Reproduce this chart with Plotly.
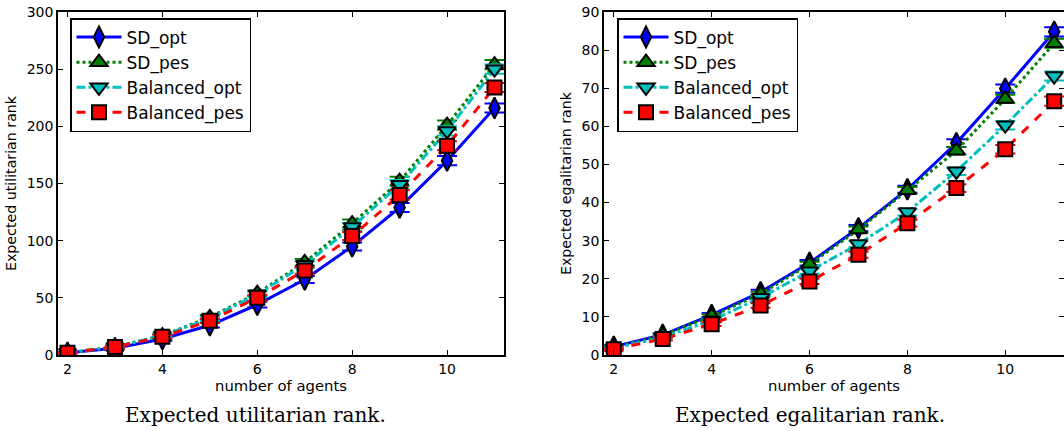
import plotly.graph_objects as go

agents = [2, 3, 4, 5, 6, 7, 8, 9, 10, 11]
series_names = ["SD_opt", "SD_pes", "Balanced_opt", "Balanced_pes"]

# Expected utilitarian rank
util_sd_opt = [2, 6, 14, 26, 44, 66, 95, 129, 170, 216]
util_sd_pes = [2, 7, 17, 33, 54, 81, 115, 152, 201, 254]
util_bal_opt = [2, 7, 17, 32, 53, 79, 112, 149, 196, 250]
util_bal_pes = [2, 7, 16, 30, 50, 74, 104, 140, 183, 234]
util_err = [0.5, 1, 1.5, 2, 2.5, 3, 3.5, 4, 4, 4]

# Expected egalitarian rank
egal_sd_opt = [2.2, 5.3, 10.5, 16.5, 24.2, 33.3, 43.5, 55.6, 69.9, 84.8]
egal_sd_pes = [2.0, 5.2, 10.2, 16.0, 23.8, 32.9, 43.2, 53.6, 67.2, 81.8]
egal_bal_opt = [1.8, 4.6, 9.1, 15.0, 22.0, 29.1, 37.5, 48.2, 60.3, 73.2]
egal_bal_pes = [1.5, 4.2, 8.1, 13.0, 19.3, 26.3, 34.6, 43.8, 54.0, 66.6]
egal_err = [0.3, 0.4, 0.5, 0.6, 0.7, 0.8, 0.9, 1.0, 1.1, 1.2]

colors = ["#0000ff", "#008000", "#00bfbf", "#ff0000"]
dashes = ["solid", "dot", "dashdot", "dash"]
symbols = ["diamond-tall", "triangle-up", "triangle-down", "square"]
msizes = [15, 15, 15, 14]

W, H = 1064, 431
TOP, BOT = 12, 76

fig = go.Figure()

def add_panel(ys, err, xa, ya, legend):
    for i, (name, y) in enumerate(zip(series_names, ys)):
        fig.add_trace(go.Scatter(
            x=agents, y=y, name=name, mode="lines+markers",
            xaxis=xa, yaxis=ya, legend=legend,
            line=dict(color=colors[i], width=3, dash=dashes[i]),
            marker=dict(symbol=symbols[i], size=msizes[i], color=colors[i],
                        line=dict(color="black", width=2)),
            error_y=dict(type="data", array=err, color=colors[i],
                         thickness=2, width=10, visible=True),
        ))

add_panel([util_sd_opt, util_sd_pes, util_bal_opt, util_bal_pes], util_err, "x", "y", "legend")
add_panel([egal_sd_opt, egal_sd_pes, egal_bal_opt, egal_bal_pes], egal_err, "x2", "y2", "legend2")

font = dict(family="DejaVu Sans", size=14, color="black")
axis_common = dict(showline=True, linecolor="black", linewidth=1.5, mirror="ticks",
                   ticks="inside", ticklen=5, tickcolor="black", tickwidth=1,
                   showgrid=False, zeroline=False, automargin=False,
                   tickfont=dict(family="DejaVu Sans", size=14, color="black"))

legend_common = dict(bgcolor="white", bordercolor="black", borderwidth=1.5,
                     font=dict(family="DejaVu Sans", size=17, color="black"),
                     xanchor="left", yanchor="top", tracegroupgap=0, itemwidth=45)

plot_h = H - TOP - BOT
XT = dict(size=14.8)
YT = dict(size=14.2)

fig.update_layout(
    width=W, height=H, margin=dict(l=0, r=0, t=TOP, b=BOT, autoexpand=False),
    paper_bgcolor="white", plot_bgcolor="white", font=font, showlegend=True,
    xaxis=dict(domain=[58 / W, 504 / W], range=[1.8, 11.2], tickvals=[2, 4, 6, 8, 10],
               title=dict(text="number of agents", font=XT, standoff=4), **axis_common),
    yaxis=dict(domain=[0, 1], range=[0, 300], tickvals=[0, 50, 100, 150, 200, 250, 300],
               title=dict(text="Expected utilitarian rank", font=YT, standoff=7), **axis_common),
    xaxis2=dict(domain=[604 / W, 1.0], range=[1.8, 1.8 + (1064 - 604) / 49.3 + 0.07], tickvals=[2, 4, 6, 8, 10],
                title=dict(text="number of agents", font=XT, standoff=4), anchor="y2", **axis_common),
    yaxis2=dict(domain=[0, 1], range=[0, 90], tickvals=[0, 10, 20, 30, 40, 50, 60, 70, 80, 90],
                title=dict(text="Expected egalitarian rank", font=YT, standoff=7), anchor="x2", **axis_common),
    legend=dict(x=70 / W, y=(H - BOT - 18) / plot_h, **legend_common),
    legend2=dict(x=617 / W, y=(H - BOT - 18) / plot_h, **legend_common),
)

for xc, txt in [(255 / W, "Expected utilitarian rank."),
                (810 / W, "Expected egalitarian rank.")]:
    fig.add_annotation(x=xc, y=-(415 - (H - BOT)) / plot_h, xref="paper", yref="paper",
                       text=txt, showarrow=False, xanchor="center", yanchor="middle",
                       font=dict(family="DejaVu Serif", size=20, color="black"))

fig.write_html("out.html", config={"displayModeBar": False},
               post_script="document.body.style.margin='0';document.body.style.overflow='hidden';")
